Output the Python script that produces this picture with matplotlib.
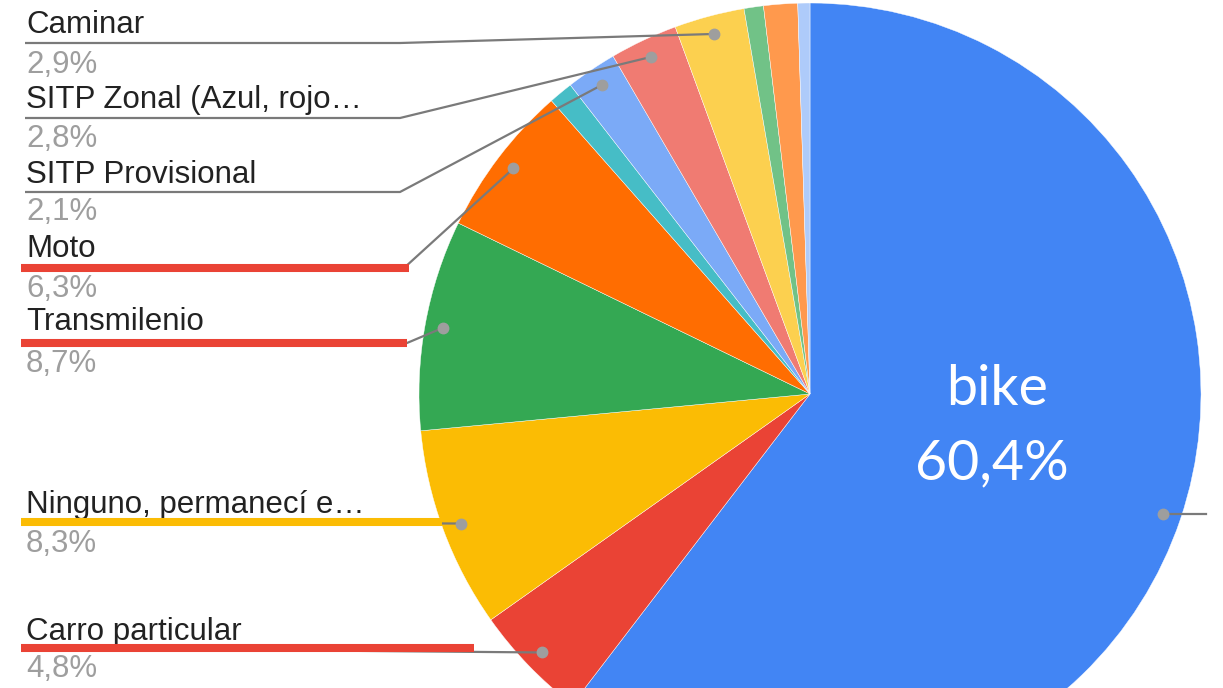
import matplotlib.pyplot as plt
import numpy as np

# Medio de transporte usado y su porcentaje
categorias = ['bike', 'Carro particular', 'Ninguno, permanecí e…', 'Transmilenio', 'Moto',
              'Otro 1', 'SITP Provisional', 'SITP Zonal (Azul, rojo…', 'Caminar',
              'Otro 2', 'Otro 3', 'Otro 4']
porcentajes = [60.4, 4.8, 8.3, 8.7, 6.3, 1.0, 2.1, 2.8, 2.9, 0.8, 1.4, 0.5]
colores = ['#4285f4', '#ea4335', '#fbbc04', '#34a853', '#ff6d01', '#46bdc6',
           '#7baaf7', '#f07b72', '#fcd04f', '#71c287', '#ff994d', '#aecbfa']

# etiquetas de la izquierda: y del nombre, y del porcentaje, y de la guia, x del codo
etiquetas = {
    'Caminar': (33, 73, 43, 400),
    'SITP Zonal (Azul, rojo…': (108, 147, 118, 400),
    'SITP Provisional': (183, 220, 192, 400),
    'Moto': (257, 297, 268, 404),
    'Transmilenio': (330, 372, 343, 407),
    'Ninguno, permanecí e…': (513, 552, 522, None),
    'Carro particular': (640, 677, 648, None),
}
# subrayados de color agregados encima
subrayados = {
    'Moto': ('#ea4335', 409),
    'Transmilenio': ('#ea4335', 407),
    'Ninguno, permanecí e…': ('#fbbc04', 442),
    'Carro particular': ('#ea4335', 474),
}

W, H = 1223, 688
cx, cy, R = 810, H - 394, 391

fig = plt.figure(figsize=(W / 100, H / 100), dpi=100)
ax = fig.add_axes([0, 0, 1, 1])
wedges, _ = ax.pie(porcentajes, colors=colores, startangle=90, counterclock=False,
                   center=(cx, cy), radius=R,
                   wedgeprops=dict(linewidth=0.3, edgecolor='white'))
ax.set_xlim(0, W)
ax.set_ylim(0, H)
ax.set_aspect('equal')
ax.axis('off')

gris = '#7a7a7a'
for w, cat, val in zip(wedges, categorias, porcentajes):
    ang = np.deg2rad((w.theta1 + w.theta2) / 2)
    px = cx + 0.953 * R * np.cos(ang)
    py = cy + 0.953 * R * np.sin(ang)
    texto_pct = f'{val:.1f}'.replace('.', ',') + '%'
    if cat == 'bike':
        ax.plot([px, 1206], [py, py], color=gris, lw=1.6, zorder=3)
        ax.plot(px, py, 'o', color='#9e9e9e', ms=7.5, zorder=4)
        ax.text(997, H - 405, cat, color='white', fontsize=40, family='Lato',
                ha='center', va='baseline', zorder=5)
        ax.text(992, H - 479, texto_pct, color='white', fontsize=40, family='Lato',
                ha='center', va='baseline', zorder=5)
        continue
    if cat not in etiquetas:
        continue
    yn, yp, yl, xcodo = etiquetas[cat]
    if xcodo is None:
        xs, ys = [25, px], [H - yl, py]
    else:
        xs, ys = [25, xcodo, px], [H - yl, H - yl, py]
    ax.plot(xs, ys, color=gris, lw=1.6, zorder=3, solid_capstyle='butt')
    ax.plot(px, py, 'o', color='#9e9e9e', ms=7.5, zorder=4)
    ax.text(26, H - yn, cat, color='#222222', fontsize=22.5, family='Liberation Sans',
            ha='left', va='baseline')
    ax.text(26, H - yp, texto_pct, color='#9e9e9e', fontsize=22.5, family='Liberation Sans',
            ha='left', va='baseline')
    if cat in subrayados:
        c, xfin = subrayados[cat]
        ax.plot([21, xfin], [H - yl, H - yl], color=c, lw=5.8, zorder=6,
                solid_capstyle='butt')

fig.savefig('out.png', dpi=100)
